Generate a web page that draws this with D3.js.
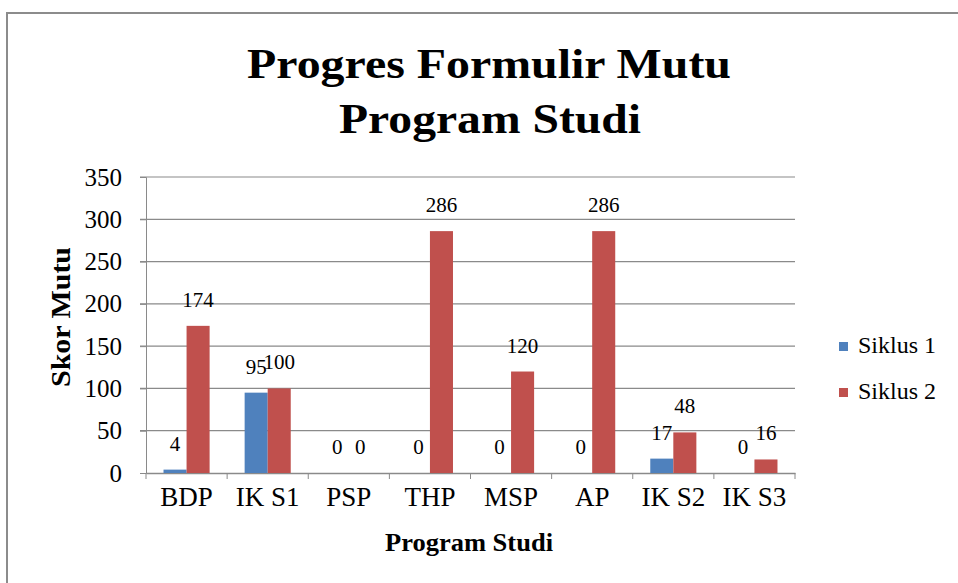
<!DOCTYPE html>
<html>
<head>
<meta charset="utf-8">
<script src="https://cdn.jsdelivr.net/npm/d3@7"></script>
<style>
  body { margin: 0; background: #fff; }
  svg { display: block; }
  text { font-family: "Liberation Serif", "Times New Roman", serif; fill: #000; }
</style>
</head>
<body>
<svg id="chart" width="958" height="583"></svg>
<script>
const categories = ["BDP", "IK S1", "PSP", "THP", "MSP", "AP", "IK S2", "IK S3"];
const seriesNames = ["Siklus 1", "Siklus 2"];
const siklus1 = [4, 95, 0, 0, 0, 0, 17, 0];
const siklus2 = [174, 100, 0, 286, 120, 286, 48, 16];
const yTicks = [0, 50, 100, 150, 200, 250, 300, 350];
const colors = ["#4f81bd", "#c0504d"];

const width = 958, height = 583;
const margin = { top: 177, right: 163, bottom: 110, left: 146 };

const svg = d3.select("#chart");

// outer chart frame
svg.append("rect")
  .attr("x", 7).attr("y", 13)
  .attr("width", 990).attr("height", 620)
  .attr("fill", "none")
  .attr("stroke", "#8c8c8c")
  .attr("stroke-width", 2);

const x0 = d3.scaleBand()
  .domain(categories)
  .range([margin.left, width - margin.right])
  .padding(0);

const x1 = d3.scaleBand()
  .domain(seriesNames)
  .range([0, x0.bandwidth()])
  .paddingInner(0)
  .paddingOuter(0.76);

const y = d3.scaleLinear()
  .domain([0, 350])
  .range([height - margin.bottom, margin.top]);

// gridlines
svg.append("g")
  .selectAll("line")
  .data(yTicks.slice(1))
  .join("line")
  .attr("x1", margin.left - 6)
  .attr("x2", width - margin.right)
  .attr("y1", d => y(d)).attr("y2", d => y(d))
  .attr("stroke", "#8a8a8a")
  .attr("stroke-width", 1.2);

// y axis
svg.append("g")
  .attr("transform", `translate(${margin.left},0)`)
  .call(d3.axisLeft(y).tickValues(yTicks).tickSize(6).tickPadding(18))
  .call(g => g.selectAll("line, path").attr("stroke", "#8a8a8a"))
  .call(g => g.selectAll("text")
    .attr("font-size", 25)
    .attr("fill", "#000"));

// x axis
svg.append("g")
  .attr("transform", `translate(0,${y(0)})`)
  .call(d3.axisBottom(x0).tickSize(0).tickPadding(14).tickSizeOuter(0))
  .call(g => g.select(".domain").attr("stroke", "#8a8a8a").attr("stroke-width", 1.5))
  .call(g => g.selectAll("text")
    .attr("font-size", 27)
    .attr("fill", "#000"));

// little marks between the categories
svg.append("g")
  .selectAll("line")
  .data(d3.range(categories.length + 1))
  .join("line")
  .attr("x1", i => margin.left + i * x0.step())
  .attr("x2", i => margin.left + i * x0.step())
  .attr("y1", y(0)).attr("y2", y(0) + 6)
  .attr("stroke", "#8a8a8a");

const rows = categories.map((c, i) => ({ cat: c, values: [siklus1[i], siklus2[i]] }));

const groups = svg.append("g")
  .selectAll("g")
  .data(rows)
  .join("g")
  .attr("transform", d => `translate(${x0(d.cat)},0)`);

groups.selectAll("rect")
  .data(d => d.values.map((v, k) => ({ key: seriesNames[k], value: v, k })))
  .join("rect")
  .attr("x", d => x1(d.key))
  .attr("y", d => y(d.value))
  .attr("width", x1.bandwidth())
  .attr("height", d => y(0) - y(d.value))
  .attr("fill", d => colors[d.k]);

groups.selectAll("text.label")
  .data(d => d.values.map((v, k) => ({ key: seriesNames[k], value: v, k })))
  .join("text")
  .attr("class", "label")
  .attr("x", d => x1(d.key) + x1.bandwidth() / 2)
  .attr("y", d => y(d.value) - 19)
  .attr("text-anchor", "middle")
  .attr("font-size", 21)
  .text(d => d.value);

// title
svg.append("text")
  .attr("x", 489).attr("y", 78)
  .attr("text-anchor", "middle")
  .attr("font-size", 42).attr("font-weight", "bold")
  .attr("textLength", 484).attr("lengthAdjust", "spacingAndGlyphs")
  .text("Progres Formulir Mutu");
svg.append("text")
  .attr("x", 490).attr("y", 133)
  .attr("text-anchor", "middle")
  .attr("font-size", 42).attr("font-weight", "bold")
  .attr("textLength", 302).attr("lengthAdjust", "spacingAndGlyphs")
  .text("Program Studi");

// axis titles
svg.append("text")
  .attr("transform", "translate(70,317) rotate(-90)")
  .attr("text-anchor", "middle")
  .attr("font-size", 27).attr("font-weight", "bold")
  .attr("textLength", 140).attr("lengthAdjust", "spacingAndGlyphs")
  .text("Skor Mutu");

svg.append("text")
  .attr("x", 469).attr("y", 551)
  .attr("text-anchor", "middle")
  .attr("font-size", 26).attr("font-weight", "bold")
  .attr("textLength", 168).attr("lengthAdjust", "spacingAndGlyphs")
  .text("Program Studi");

// legend
const legend = svg.append("g")
  .selectAll("g")
  .data(seriesNames)
  .join("g")
  .attr("transform", (d, i) => `translate(839,${342 + i * 46})`);

legend.append("rect")
  .attr("width", 9).attr("height", 9)
  .attr("fill", (d, i) => colors[i]);

legend.append("text")
  .attr("x", 19).attr("y", 11)
  .attr("font-size", 24)
  .text(d => d);
</script>
</body>
</html>
